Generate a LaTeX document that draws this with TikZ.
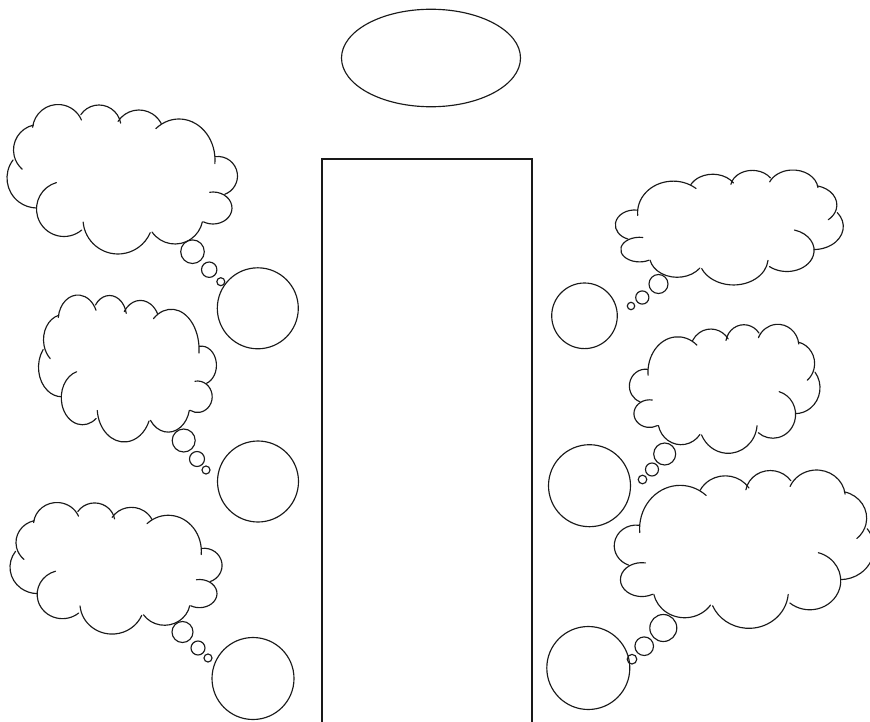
\documentclass[tikz,border=0pt]{standalone}
\usetikzlibrary{shapes.geometric}
\tikzset{
  ln/.style={draw=black!90, line width=1.15pt},
  cloudline/.style={ln, line cap=round},
  bubble/.style={circle, ln, inner sep=0pt, outer sep=0pt},
}
% thought-cloud outline in stencil coordinates (box 7..237.5 x 104.5..254, y down)
\newcommand{\cloudstencil}{%
  \draw[cloudline] (39,150) ++(257:25.5) arc[start angle=257,end angle=131,radius=25.5];
  \draw[cloudline] (37,178) ++(217:30) arc[start angle=217,end angle=91,radius=30];
  \draw[cloudline] (64,209) ++(254:27.5) arc[start angle=254,end angle=50,radius=27.5];
  \draw[cloudline] (118,219) ++(175:35) arc[start angle=175,end angle=23,radius=35];
  \draw[cloudline] (175,216) ++(145:28) arc[start angle=145,end angle=12,radius=28];
  \draw[cloudline] (213,208) ++(-100:19 and 16) arc[start angle=-100,end angle=120,x radius=19,y radius=16];
  \draw[cloudline] (218,176) ++(-98:19.5) arc[start angle=-98,end angle=70,radius=19.5];
  \draw[cloudline] (179,160) ++(-130:36 and 41) arc[start angle=-130,end angle=5,x radius=36,y radius=41];
  \draw[cloudline] (139,135) ++(-147:25) arc[start angle=-147,end angle=-27,radius=25];
  \draw[cloudline] (99,127) ++(-146:22) arc[start angle=-146,end angle=-10,radius=22];
  \draw[cloudline] (58,130) ++(-174:25.5) arc[start angle=-174,end angle=-23,radius=25.5];
}
% #1,#2: anchor x (left edge, or right edge when #3 negative), top y; #3 xscale; #4 yscale
\newcommand{\thoughtcloud}[4]{%
  \begin{scope}[shift={(#1,#2)}, xscale=#3, yscale=#4, shift={(-7,-104.5)}]
    \cloudstencil
  \end{scope}}
\begin{document}
\begin{tikzpicture}[x=1pt, y=1pt, yscale=-1]
  \useasboundingbox (0,0) rectangle (870,722);
  \fill[white] (0,0) rectangle (870,722);
  \clip (0,0) rectangle (870,722);

  % top ellipse and central column
  \node[ellipse, ln, inner sep=0pt, minimum width=179pt, minimum height=97.5pt] (head) at (431,58) {};
  \node[rectangle, ln, inner sep=0pt, minimum width=210pt, minimum height=571pt] (column) at (427,444.5) {};

  % left clouds
  \thoughtcloud{7}{104.5}{1}{1}
  \thoughtcloud{38.5}{295}{0.772}{0.983}
  \thoughtcloud{10}{502.5}{0.92}{0.88}
  % right clouds (mirrored)
  \thoughtcloud{843.3}{170}{-0.989}{0.769}
  \thoughtcloud{820}{324.3}{-0.827}{0.863}
  \thoughtcloud{874}{470}{-1.127}{1.059}

  % left thought bubbles
  \node[bubble, minimum size=81pt] (l1) at (257.8,308.3) {};
  \node[bubble, minimum size=23.6pt] (l1a) at (192.5,251.7) {};
  \node[bubble, minimum size=15.4pt] (l1b) at (209.2,269.7) {};
  \node[bubble, minimum size=8pt] (l1c) at (220.8,281.7) {};

  \node[bubble, minimum size=81pt] (l2) at (258,481.5) {};
  \node[bubble, minimum size=23pt] (l2a) at (183.7,440.5) {};
  \node[bubble, minimum size=15pt] (l2b) at (197,459) {};
  \node[bubble, minimum size=8pt] (l2c) at (206,470) {};

  \node[bubble, minimum size=82pt] (l3) at (253,678.5) {};
  \node[bubble, minimum size=21pt] (l3a) at (182.5,632) {};
  \node[bubble, minimum size=14pt] (l3b) at (198,648) {};
  \node[bubble, minimum size=8pt] (l3c) at (208,658) {};

  % right thought bubbles
  \node[bubble, minimum size=65.6pt] (r1) at (584.5,315.8) {};
  \node[bubble, minimum size=19pt] (r1a) at (658.5,284) {};
  \node[bubble, minimum size=13.2pt] (r1b) at (642.3,297.5) {};
  \node[bubble, minimum size=7.4pt] (r1c) at (631,306) {};

  \node[bubble, minimum size=82pt] (r2) at (589.5,485.7) {};
  \node[bubble, minimum size=22pt] (r2a) at (664.7,454) {};
  \node[bubble, minimum size=13pt] (r2b) at (652,469.5) {};
  \node[bubble, minimum size=8.6pt] (r2c) at (642.5,479.5) {};

  \node[bubble, minimum size=83pt] (r3) at (588.3,668) {};
  \node[bubble, minimum size=27pt] (r3a) at (663.3,628) {};
  \node[bubble, minimum size=18.6pt] (r3b) at (644.2,646.2) {};
  \node[bubble, minimum size=9.6pt] (r3c) at (632,659.2) {};
\end{tikzpicture}
\end{document}
